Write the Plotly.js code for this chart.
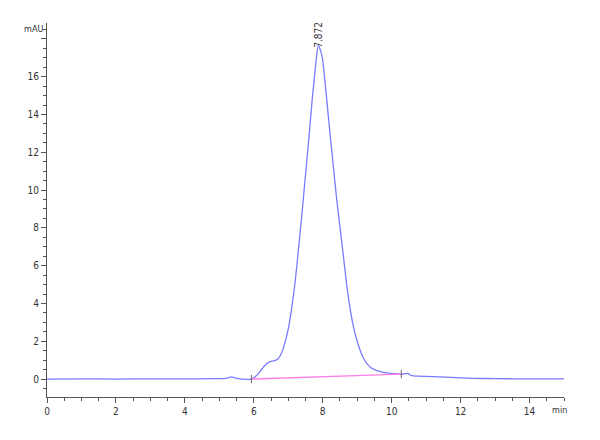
<!DOCTYPE html>
<html>
<head>
<meta charset="utf-8">
<script src="https://cdn.plot.ly/plotly-3.0.1.min.js"></script>
<style>
  body { margin: 0; background: #fff; }
  #chart { width: 600px; height: 440px; }
</style>
</head>
<body>
<div id="chart"></div>
<script>
'use strict';

// chromatogram signal (min, mAU)
const timeMin = [0, 1, 2, 3, 4, 4.8, 5.2, 5.35, 5.5, 5.8, 5.93, 6.0, 6.1, 6.2, 6.3, 6.4, 6.5, 6.6, 6.7,
    6.8, 6.9, 7.0, 7.1, 7.2, 7.3, 7.4, 7.5, 7.6, 7.7, 7.8, 7.872, 7.95, 8.0, 8.1, 8.2, 8.3, 8.4,
    8.5, 8.6, 8.7, 8.8, 8.9, 9.0, 9.1, 9.2, 9.3, 9.4, 9.5, 9.6, 9.7, 9.8, 9.9, 10.1, 10.28, 10.38,
    10.47, 10.55, 10.62, 11.0, 11.39, 12.35, 13, 14, 15];
const signal = [0, 0.01, 0, 0.01, 0.01, 0.02, 0.03, 0.12, 0.04, -0.02, 0, 0.07, 0.22, 0.45, 0.68, 0.85, 0.93, 0.97, 1.06,
    1.35, 1.9, 2.65, 3.75, 5.15, 6.95, 8.8, 10.8, 12.8, 14.9, 16.7, 17.65, 17.3, 16.85, 15.1, 13.2, 11.4, 9.6,
    8.05, 6.5, 4.9, 3.65, 2.7, 2.0, 1.45, 1.05, 0.78, 0.6, 0.5, 0.43, 0.38, 0.34, 0.31, 0.28, 0.26, 0.28,
    0.3, 0.2, 0.17, 0.14, 0.12, 0.04, 0.02, 0.01, 0.01];

// integration baseline and its start/end marks
const baseTime = [5.93, 10.28];
const baseVal = [0, 0.26];

const peakTime = 7.872;
const peakHeight = 17.65;
const peakLabel = '7.872';

const xTicks = [0, 2, 4, 6, 8, 10, 12, 14];
const yTicks = [0, 2, 4, 6, 8, 10, 12, 14, 16, 18];
const yTickText = ['0', '2', '4', '6', '8', '10', '12', '14', '16', ''];

const font = "'Liberation Sans Narrow', 'DejaVu Sans Condensed', 'Arial Narrow', sans-serif";
const axisColor = '#555';

const traces = [
    {
        x: timeMin, y: signal, type: 'scatter', mode: 'lines',
        line: {color: '#7a7aff', width: 1.3, shape: 'spline', smoothing: 0.6},
        hoverinfo: 'x+y'
    },
    {
        x: baseTime, y: baseVal, type: 'scatter', mode: 'lines',
        line: {color: '#ff80e6', width: 1.4}
    },
    {
        x: baseTime, y: baseVal, type: 'scatter', mode: 'markers',
        marker: {symbol: 'line-ns', size: 6, line: {color: '#666', width: 1}}
    }
];

const layout = {
    width: 600, height: 440,
    margin: {l: 47, r: 36, t: 23, b: 43},
    paper_bgcolor: '#fff', plot_bgcolor: '#fff',
    showlegend: false,
    font: {family: font, size: 10, color: '#333'},
    xaxis: {
        range: [0, 15], showgrid: false, zeroline: false,
        showline: true, linecolor: axisColor, linewidth: 1,
        tickmode: 'array', tickvals: xTicks,
        ticks: 'outside', ticklen: 5, tickcolor: axisColor,
        minor: {dtick: 0.5, ticks: 'outside', ticklen: 3, tickcolor: axisColor, showgrid: false},
        tickfont: {family: font, size: 10, color: '#333'}
    },
    yaxis: {
        range: [-0.95, 18.84], showgrid: false, zeroline: false,
        showline: true, linecolor: axisColor, linewidth: 1,
        tickmode: 'array', tickvals: yTicks, ticktext: yTickText,
        ticks: 'outside', ticklen: 5, tickcolor: axisColor,
        minor: {dtick: 0.5, ticks: 'outside', ticklen: 3, tickcolor: axisColor, showgrid: false},
        tickfont: {family: font, size: 10, color: '#333'}
    },
    annotations: [
        {
            x: peakTime, y: peakHeight, xref: 'x', yref: 'y',
            text: peakLabel, textangle: -90, showarrow: false,
            xanchor: 'center', yanchor: 'bottom', yshift: -4,
            font: {family: font, size: 10, color: '#333'}
        },
        {
            x: 0, y: 1, xref: 'paper', yref: 'paper', text: 'mAU', showarrow: false,
            xanchor: 'center', yanchor: 'middle',
            font: {family: font, size: 9, color: '#333'}
        },
        {
            x: 15, y: 0, xref: 'x', yref: 'paper', text: 'min', showarrow: false,
            yanchor: 'top', yshift: -6, xshift: -5,
            font: {family: font, size: 9, color: '#333'}
        }
    ]
};

// mAU label sits top-left in pixel terms; convert to paper fraction
const plotW = layout.width - layout.margin.l - layout.margin.r;
const plotH = layout.height - layout.margin.t - layout.margin.b;
layout.annotations[1].x = (33 - layout.margin.l) / plotW;
layout.annotations[1].y = (layout.height - layout.margin.b - 29) / plotH;

Plotly.newPlot('chart', traces, layout, {displayModeBar: false, staticPlot: true});
</script>
</body>
</html>
